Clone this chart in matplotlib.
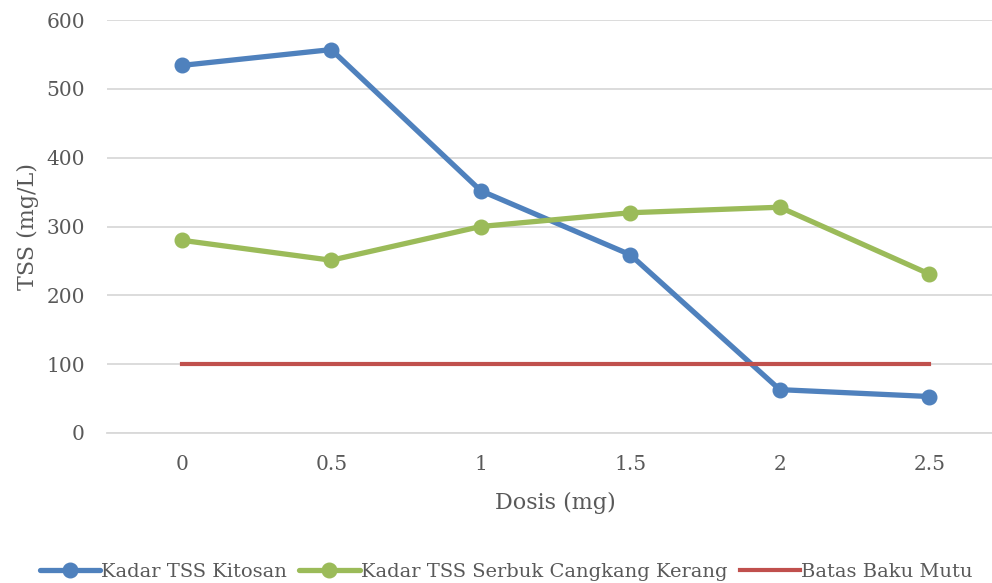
import matplotlib
matplotlib.use("Agg")
import matplotlib.pyplot as plt

# data
dosis = ["0", "0.5", "1", "1.5", "2", "2.5"]
tss_kitosan = [534, 557, 352, 259, 63, 53]
tss_kerang = [280, 251, 300, 320, 328, 231]
baku_mutu = [100, 100, 100, 100, 100, 100]

plt.rcParams['font.family'] = ['DejaVu Serif']
text_col = '#595959'

fig = plt.figure(figsize=(9.92, 5.83), dpi=100)
ax = fig.add_axes([107/992, 1 - 433/583, 897/992, 413/583])

x = range(len(dosis))
ax.plot(x, tss_kitosan, color='#4F81BD', lw=3.8, marker='o', ms=10.5,
        label='Kadar TSS Kitosan', solid_capstyle='round')
ax.plot(x, tss_kerang, color='#9BBB59', lw=3.8, marker='o', ms=10.5,
        label='Kadar TSS Serbuk Cangkang Kerang', solid_capstyle='round')
ax.plot(x, baku_mutu, color='#C0504D', lw=3.0, label='Batas Baku Mutu')

ax.set_xlim(-0.5, len(dosis) - 0.5)
ax.set_ylim(0, 600)
ax.set_yticks(range(0, 601, 100))
ax.set_xticks(list(x))
ax.set_xticklabels(dosis)
ax.grid(axis='y', color='#d9d9d9', lw=1.3)
ax.set_axisbelow(True)
for s in ['top', 'right', 'left']:
    ax.spines[s].set_visible(False)
ax.spines['bottom'].set_color('#d9d9d9')
ax.spines['bottom'].set_linewidth(1.3)
ax.tick_params(length=0, labelsize=14.5, colors=text_col)
ax.tick_params(axis='x', pad=16)
ax.tick_params(axis='y', pad=16)

ax.set_xlabel('Dosis (mg)', fontsize=16, color=text_col, labelpad=13)
ax.set_ylabel('TSS (mg/L)', fontsize=16, color=text_col, labelpad=5)

fig.legend(loc='center', bbox_to_anchor=(506/992, 1 - 572/583), ncol=3,
           frameon=False, fontsize=14, labelcolor=text_col,
           handlelength=3.1, handletextpad=0.05, columnspacing=0.65)

fig.savefig('out.png', dpi=100)
